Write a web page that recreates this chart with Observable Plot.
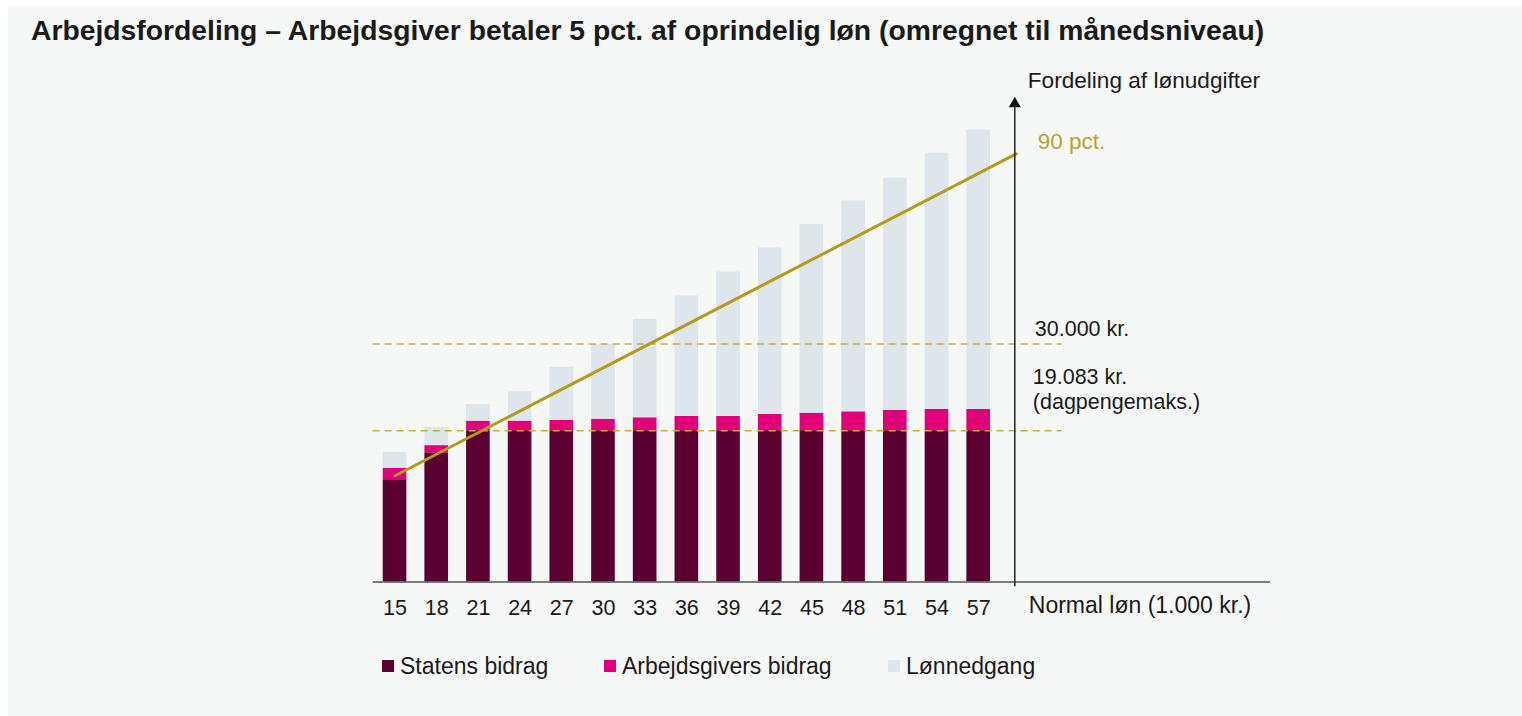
<!DOCTYPE html>
<html>
<head>
<meta charset="utf-8">
<script src="https://cdn.jsdelivr.net/npm/d3@7"></script>
<script src="https://cdn.jsdelivr.net/npm/@observablehq/plot@0.6"></script>
<style>
  html, body { margin: 0; padding: 0; background: #ffffff; }
  body { width: 1522px; height: 716px; position: relative; overflow: hidden; font-family: "Liberation Sans", Arial, sans-serif; color: #1a1a1a; }
  #panel { position: absolute; left: 8px; top: 6px; width: 1514px; height: 710px; background: #f6f8f8; }
  #title { position: absolute; left: 31px; top: 13px; font-size: 28.3px; line-height: 34px; font-weight: bold; white-space: nowrap; }
  #chart { position: absolute; left: 0; top: 60px; }
  #legend { position: absolute; left: 382px; top: 654px; height: 24px; font-size: 23px; }
  .item { position: absolute; top: 0; white-space: nowrap; display: flex; align-items: center; height: 24px; }
  .sw { width: 12px; height: 12px; margin-right: 6px; display: inline-block; }
</style>
</head>
<body>
<div id="panel"></div>
<div id="title">Arbejdsfordeling – Arbejdsgiver betaler 5 pct. af oprindelig løn (omregnet til månedsniveau)</div>
<div id="chart"></div>
<div id="legend"></div>
<script>
// Normal løn (1.000 kr.)
const salaries = [15, 18, 21, 24, 27, 30, 33, 36, 39, 42, 45, 48, 51, 54, 57];
// Statens bidrag (1.000 kr.)
const statens = [12.9, 16.3, 19.083, 19.083, 19.083, 19.083, 19.083, 19.083, 19.083, 19.083, 19.083, 19.083, 19.083, 19.083, 19.083];
// Arbejdsgivers bidrag (1.000 kr.)
const arbejdsgiver = [1.45, 0.9, 1.2, 1.2, 1.3, 1.45, 1.63, 1.79, 1.79, 2.04, 2.21, 2.38, 2.55, 2.67, 2.67];
// Lønnedgang (1.000 kr.)
const loennedgang = [2.0, 2.3, 2.1, 3.7, 6.7, 9.4, 12.4, 15.2, 18.2, 21.0, 23.8, 26.6, 29.3, 32.35, 35.25];
// 90 pct. line (start and end points)
const pctLineX = [15, 59.7];
const pctLineY = [13.4, 54.0];
// reference levels
const refLevels = [30, 19.083];
const refLabels = ["30.000 kr.", "19.083 kr.\n(dagpengemaks.)"];

const seriesNames = ["Statens bidrag", "Arbejdsgivers bidrag", "Lønnedgang"];
const seriesColors = ["#5b0030", "#e2007a", "#dee5eb"];
const seriesValues = [statens, arbejdsgiver, loennedgang];

const halfWidth = 0.85;
const rows = [];
salaries.forEach((s, i) => {
  let base = 0;
  seriesValues.forEach((vals, k) => {
    rows.push({ salary: s, series: seriesNames[k], y1: base, y2: base + vals[i] });
    base += vals[i];
  });
});
const pctLine = pctLineX.map((x, i) => ({ x, y: pctLineY[i] }));

const xMin = 13.43, xMax = 78, yTop = 61.1, yAxisX = 59.6, dashEnd = 63;
const gold = "#b39b1f";
const font = "Liberation Sans, Arial, sans-serif";

const chart = Plot.plot({
  width: 1522,
  height: 580,
  marginLeft: 372.7,
  marginRight: 252,
  marginTop: 37,
  marginBottom: 58.5,
  style: { background: "transparent", fontFamily: font, color: "#1a1a1a", overflow: "visible" },
  x: { domain: [xMin, xMax], axis: null },
  y: { domain: [0, yTop], axis: null },
  color: { domain: seriesNames, range: seriesColors },
  marks: [
    Plot.rect(rows, { x1: d => d.salary - halfWidth, x2: d => d.salary + halfWidth, y1: "y1", y2: "y2", fill: "series" }),
    Plot.ruleY(refLevels, { x1: xMin, x2: dashEnd, stroke: "#c9ad3a", strokeWidth: 1.5, strokeDasharray: "7,5" }),
    Plot.line(pctLine, { x: "x", y: "y", stroke: gold, strokeWidth: 3 }),
    Plot.ruleY([0], { x1: xMin, x2: xMax, stroke: "#555", strokeWidth: 1.5 }),
    Plot.ruleX([yAxisX], { y1: -0.6, y2: 60.3, stroke: "#222", strokeWidth: 1.5 }),
    Plot.dot([yAxisX], { x: d => d, y: 60.3, symbol: "triangle", r: 4.5, fill: "#111", stroke: "none" }),
    Plot.text(salaries, { x: d => d, y: 0, dy: 26.5, text: d => String(d), fontSize: 21.5, fill: "#1a1a1a" }),
    Plot.text(["Normal løn (1.000 kr.)"], { x: yAxisX, y: 0, dx: 14, dy: 24, textAnchor: "start", fontSize: 23, fill: "#1a1a1a" }),
    Plot.text(["Fordeling af lønudgifter"], { x: yAxisX, y: yTop, dx: 13, dy: -17, textAnchor: "start", fontSize: 22.6, fill: "#1a1a1a" }),
    Plot.text(["90 pct."], { x: yAxisX, y: pctLineY[1], dx: 23, dy: -12, textAnchor: "start", fontSize: 22.5, fill: "#b8a232" }),
    Plot.text([refLabels[0]], { x: yAxisX, y: refLevels[0], dx: 20, dy: -15, textAnchor: "start", fontSize: 21.5, fill: "#1a1a1a" }),
    Plot.text([refLabels[1]], { x: yAxisX, y: refLevels[1], dx: 18, dy: -42, textAnchor: "start", lineAnchor: "middle", lineHeight: 1.13, fontSize: 21.5, fill: "#1a1a1a" })
  ]
});
document.getElementById("chart").appendChild(chart);

const legend = document.getElementById("legend");
const legendX = [0, 222, 506];
seriesNames.forEach((name, k) => {
  const it = document.createElement("div");
  it.className = "item";
  it.style.left = legendX[k] + "px";
  it.innerHTML = `<span class="sw" style="background:${seriesColors[k]}"></span>${name}`;
  legend.appendChild(it);
});
</script>
</body>
</html>
